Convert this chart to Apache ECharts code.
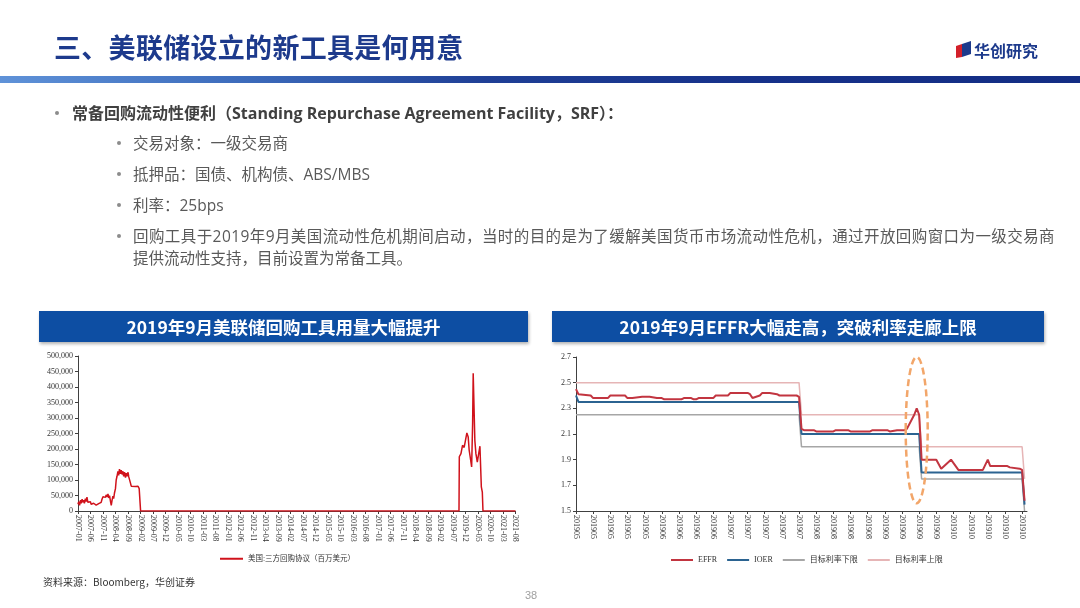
<!DOCTYPE html>
<html>
<head>
<meta charset="utf-8">
<script src="https://cdn.jsdelivr.net/npm/echarts@6/dist/echarts.min.js"></script>
<style>
html,body{margin:0;padding:0;width:1080px;height:608px;overflow:hidden;background:#fff;font-family:"Noto Sans CJK SC",sans-serif;}
#chart{position:absolute;left:0;top:0;width:1080px;height:608px;z-index:0;}
.abs{position:absolute;white-space:nowrap;z-index:2;}
.title{left:54px;top:28px;font-size:27px;font-weight:700;color:#1d3a8c;line-height:38px;letter-spacing:0.3px;}
.logotxt{left:974px;top:39px;font-size:16px;font-weight:700;color:#1d3a8c;line-height:22px;}
.bar{left:0;top:76px;width:1080px;height:7px;background:linear-gradient(90deg,#5f92d8 0%,#3d6cbc 22%,#1f3f96 45%,#16318a 70%,#132d84 100%);}
.dot{width:4px;height:4px;border-radius:50%;background:#8c8c8c;}
.b1{font-family:"Open Sans","Noto Sans CJK SC",sans-serif;font-size:16px;font-weight:700;color:#404040;line-height:22px;}
.b2{font-family:"Open Sans","Noto Sans CJK SC",sans-serif;font-size:15.5px;color:#595959;line-height:22px;}
.hdr{top:311px;height:31px;background:#0d4ea3;color:#fff;font-weight:700;font-size:17.5px;text-align:center;line-height:31px;box-shadow:1px 2px 3px rgba(0,0,0,0.3);}
.src{left:43px;top:574px;font-size:10px;color:#333;line-height:16px;}
.pg{left:525px;top:587px;font-size:11px;color:#a0a0a0;line-height:16px;font-family:"Liberation Sans",sans-serif;}
</style>
</head>
<body>
<div id="chart"></div>

<div class="abs title">三、美联储设立的新工具是何用意</div>
<svg class="abs" style="left:956px;top:41px" width="17" height="17" viewBox="0 0 17 17">
  <polygon points="0,5 6,3 6,16 0,17" fill="#d3202a"/>
  <polygon points="6,3 15,0 15,13 6,16" fill="#1d3a8c"/>
</svg>
<div class="abs logotxt">华创研究</div>
<div class="abs bar"></div>

<div class="abs dot" style="left:55px;top:111px;"></div>
<div class="abs b1" style="left:72px;top:102px;">常备回购流动性便利（Standing Repurchase Agreement Facility，SRF）：</div>
<div class="abs dot" style="left:117px;top:141px;"></div>
<div class="abs b2" style="left:133px;top:132px;">交易对象：一级交易商</div>
<div class="abs dot" style="left:117px;top:172px;"></div>
<div class="abs b2" style="left:133px;top:163px;">抵押品：国债、机构债、ABS/MBS</div>
<div class="abs dot" style="left:117px;top:203px;"></div>
<div class="abs b2" style="left:133px;top:194px;">利率：25bps</div>
<div class="abs dot" style="left:117px;top:234px;"></div>
<div class="abs b2" style="left:133px;top:225px;letter-spacing:0.42px;">回购工具于2019年9月美国流动性危机期间启动，当时的目的是为了缓解美国货币市场流动性危机，通过开放回购窗口为一级交易商</div>
<div class="abs b2" style="left:133px;top:247px;">提供流动性支持，目前设置为常备工具。</div>

<div class="abs hdr" style="left:39px;width:489px;">2019年9月美联储回购工具用量大幅提升</div>
<div class="abs hdr" style="left:552px;width:492px;">2019年9月EFFR大幅走高，突破利率走廊上限</div>

<div class="abs src">资料来源：Bloomberg，华创证券</div>
<div class="abs pg">38</div>

<script>
// ---------- Data: left chart (US tri-party repo, USD mn) ----------
const repoName = '美国:三方回购协议（百万美元）';
const repoDates = [
 '2007-01-01','2007-01-10','2007-01-20','2007-02-01','2007-02-10','2007-02-20','2007-03-01','2007-03-10','2007-03-20',
 '2007-04-01','2007-04-10','2007-04-20','2007-05-01','2007-05-10','2007-05-20','2007-06-01','2007-06-10','2007-06-20',
 '2007-07-01','2007-07-10','2007-07-20','2007-08-01','2007-08-10','2007-08-20','2007-09-01','2007-09-10','2007-09-20',
 '2007-10-01','2007-10-10','2007-10-20','2007-11-01','2007-11-10','2007-11-20','2007-12-01','2007-12-10','2007-12-20',
 '2008-01-01','2008-01-10','2008-01-20','2008-02-01','2008-02-10','2008-02-20','2008-03-01','2008-03-10','2008-03-20',
 '2008-04-01','2008-04-10','2008-04-20','2008-05-01','2008-05-10','2008-05-20','2008-06-01','2008-06-10','2008-06-20',
 '2008-07-01','2008-07-10','2008-07-20','2008-08-01','2008-08-10','2008-08-20','2008-09-01','2008-09-10','2008-09-20',
 '2008-10-01','2008-10-10','2008-11-01','2008-12-01','2009-01-01','2009-01-15','2009-02-01',
 '2019-09-13','2019-09-17','2019-10-07','2019-10-26','2019-11-15','2019-12-01','2019-12-18','2020-01-03','2020-01-15',
 '2020-01-27','2020-02-14','2020-02-26','2020-03-04','2020-03-24','2020-04-06','2020-04-23','2020-05-04','2020-05-25',
 '2020-06-11','2020-06-23','2020-07-01','2021-08-01'
];
const repoValues = [
 22000,30000,18000,35000,25000,38000,28000,35000,25000,
 40000,30000,45000,28000,32000,25000,30000,22000,27000,
 20000,25000,21000,24000,19000,23000,20000,24000,19000,
 22000,28000,38000,46000,40000,50000,44000,52000,45000,
 55000,42000,50000,30000,18000,35000,48000,40000,58000,
 72000,100000,112000,128000,115000,135000,120000,132000,118000,
 128000,112000,125000,108000,122000,112000,125000,110000,115000,
 90000,80000,80000,79000,80000,72000,0,
 0,175000,185000,212000,205000,228000,252000,239000,196000,
 175000,142000,282000,444000,228000,185000,158000,164000,209000,
 78000,61000,0,0
];
const repoTickLabels = ['2007-01','2007-06','2007-11','2008-04','2008-09','2009-02','2009-07','2009-12','2010-05','2010-10',
 '2011-03','2011-08','2012-01','2012-06','2012-11','2013-04','2013-09','2014-02','2014-07','2014-12','2015-05','2015-10',
 '2016-03','2016-08','2017-01','2017-06','2017-11','2018-04','2018-09','2019-02','2019-07','2019-12','2020-05','2020-10',
 '2021-03','2021-08'];

// ---------- Data: right chart (policy rates, %) ----------
const effrDates = ['2019-05-01','2019-05-02','2019-05-07','2019-05-08','2019-05-14','2019-05-15','2019-05-21','2019-05-22','2019-05-24','2019-05-28',
 '2019-05-31','2019-06-03','2019-06-05','2019-06-06','2019-06-13','2019-06-14','2019-06-17','2019-06-18','2019-06-19','2019-06-20',
 '2019-06-26','2019-06-27','2019-07-02','2019-07-03','2019-07-10','2019-07-11','2019-07-12','2019-07-15','2019-07-16','2019-07-19',
 '2019-07-22','2019-07-23','2019-07-30','2019-07-31','2019-08-01','2019-08-02','2019-08-06','2019-08-07','2019-08-14','2019-08-15',
 '2019-08-20','2019-08-21','2019-08-29','2019-08-30','2019-09-05','2019-09-06','2019-09-09','2019-09-12','2019-09-13','2019-09-16',
 '2019-09-17','2019-09-18','2019-09-19','2019-09-25','2019-09-27','2019-10-01','2019-10-04','2019-10-14','2019-10-16','2019-10-17',
 '2019-10-24','2019-10-25','2019-10-29','2019-10-30','2019-10-31'];
const effrValues = [2.45,2.41,2.40,2.38,2.38,2.40,2.40,2.38,2.38,2.39,
 2.39,2.38,2.38,2.37,2.37,2.38,2.38,2.37,2.37,2.38,
 2.38,2.40,2.40,2.42,2.42,2.41,2.38,2.40,2.42,2.42,
 2.41,2.40,2.40,2.39,2.14,2.13,2.13,2.12,2.12,2.13,
 2.13,2.12,2.12,2.13,2.13,2.12,2.13,2.13,2.14,2.25,
 2.30,2.25,1.90,1.90,1.83,1.90,1.82,1.82,1.90,1.85,
 1.85,1.84,1.83,1.82,1.58];
const ioerDates = ['2019-05-01','2019-05-02','2019-07-31','2019-08-01','2019-09-18','2019-09-19','2019-10-30','2019-10-31'];
const ioerValues = [2.40,2.35,2.35,2.10,2.10,1.80,1.80,1.55];
const bandDates = ['2019-05-01','2019-07-31','2019-08-01','2019-09-18','2019-09-19','2019-10-30','2019-10-31'];
const lowerValues = [2.25,2.25,2.00,2.00,1.75,1.75,1.50];
const upperValues = [2.50,2.50,2.25,2.25,2.00,2.00,1.75];
const rateTickDates = ['2019-05-01','2019-05-08','2019-05-15','2019-05-22','2019-05-29','2019-06-05','2019-06-12','2019-06-19','2019-06-26',
 '2019-07-03','2019-07-10','2019-07-17','2019-07-24','2019-07-31','2019-08-07','2019-08-14','2019-08-21','2019-08-28',
 '2019-09-04','2019-09-11','2019-09-18','2019-09-25','2019-10-02','2019-10-09','2019-10-16','2019-10-23','2019-10-30'];
const rateYTicks = [1.5,1.7,1.9,2.1,2.3,2.5,2.7];
const rateNames = ['EFFR','IOER','目标利率下限','目标利率上限'];

// ---------- helpers ----------
function ts(s){ const p = s.split('-').map(Number); return Date.UTC(p[0], (p[1]||1)-1, p[2]||1); }
function zip(d, v){ return d.map((x,i)=>[ts(x), v[i]]); }
function pad(n){ return (n<10?'0':'')+n; }

const serif = '"Liberation Serif","Noto Sans CJK SC",serif';
const axisCol = '#404040';
const labelStyle = {fontSize:8, fontFamily:serif, color:'#333'};

const chart = echarts.init(document.getElementById('chart'));
const option = {
  animation:false,
  grid:[
    {left:78, top:356, width:437.5, height:155},
    {left:576, top:357, width:451, height:154}
  ],
  xAxis:[
    {type:'value', gridIndex:0, min:ts('2007-01-01'), max:ts('2021-08-01'), scale:true,
     axisLine:{show:true, onZero:false, lineStyle:{color:axisCol, width:1}},
     axisTick:{show:true, customValues:repoTickLabels.map(ts), length:3, lineStyle:{color:axisCol}},
     axisLabel:Object.assign({customValues:repoTickLabels.map(ts), rotate:-90, margin:4,
        formatter:function(v){ const d=new Date(v); return d.getUTCFullYear()+'-'+pad(d.getUTCMonth()+1); }}, labelStyle),
     splitLine:{show:false}},
    {type:'value', gridIndex:1, min:ts('2019-05-01'), max:ts('2019-11-01'), scale:true,
     axisLine:{show:true, onZero:false, lineStyle:{color:axisCol, width:1}},
     axisTick:{show:true, customValues:rateTickDates.map(ts), length:3, lineStyle:{color:axisCol}},
     axisLabel:Object.assign({customValues:rateTickDates.map(ts), rotate:-90, margin:4,
        formatter:function(v){ const d=new Date(v); return d.getUTCFullYear()+''+pad(d.getUTCMonth()+1); }}, labelStyle),
     splitLine:{show:false}}
  ],
  yAxis:[
    {type:'value', gridIndex:0, min:0, max:500000, interval:50000,
     axisLine:{show:true, lineStyle:{color:axisCol, width:1}},
     axisTick:{show:true, length:3, lineStyle:{color:axisCol}},
     axisLabel:Object.assign({margin:5, formatter:function(v){ return v.toLocaleString('en-US'); }}, labelStyle),
     splitLine:{show:false}},
    {type:'value', gridIndex:1, min:1.5, max:2.7,
     axisLine:{show:true, lineStyle:{color:axisCol, width:1}},
     axisTick:{show:true, customValues:rateYTicks, length:3, lineStyle:{color:axisCol}},
     axisLabel:Object.assign({customValues:rateYTicks, margin:5, formatter:function(v){ return v.toFixed(1); }}, labelStyle),
     splitLine:{show:false}}
  ],
  legend:[
    {data:[repoName], left:215, top:550, icon:'rect', itemWidth:23, itemHeight:2, itemGap:10,
     textStyle:{fontSize:7.5, fontFamily:serif, color:'#333'}},
    {data:rateNames, left:666, top:551, icon:'rect', itemWidth:22, itemHeight:2, itemGap:10,
     textStyle:{fontSize:8, fontFamily:serif, color:'#333'}}
  ],
  series:[
    {name:repoName, type:'line', xAxisIndex:0, yAxisIndex:0, data:zip(repoDates, repoValues),
     symbol:'none', color:'#d0121b', lineStyle:{color:'#d0121b', width:1.5}, z:5},
    {name:'目标利率上限', type:'line', xAxisIndex:1, yAxisIndex:1, data:zip(bandDates, upperValues),
     symbol:'none', color:'#e6b5b6', lineStyle:{color:'#e6b5b6', width:1.5}, z:2},
    {name:'目标利率下限', type:'line', xAxisIndex:1, yAxisIndex:1, data:zip(bandDates, lowerValues),
     symbol:'none', color:'#a6a6a6', lineStyle:{color:'#a6a6a6', width:1.5}, z:3},
    {name:'IOER', type:'line', xAxisIndex:1, yAxisIndex:1, data:zip(ioerDates, ioerValues),
     symbol:'none', color:'#2b6391', lineStyle:{color:'#2b6391', width:2}, z:4},
    {name:'EFFR', type:'line', xAxisIndex:1, yAxisIndex:1, data:zip(effrDates, effrValues),
     symbol:'none', color:'#c23540', lineStyle:{color:'#c23540', width:2}, z:5}
  ]
};
chart.setOption(option);

// dashed ellipse annotation around the September 2019 spike, placed via the axis scales
const pTop = chart.convertToPixel({xAxisIndex:1, yAxisIndex:1}, [ts('2019-09-17'), 2.70]);
const pBot = chart.convertToPixel({xAxisIndex:1, yAxisIndex:1}, [ts('2019-09-17'), 1.56]);
chart.setOption({graphic:[{type:'ellipse', z:100,
  shape:{cx:pTop[0], cy:(pTop[1]+pBot[1])/2, rx:11, ry:(pBot[1]-pTop[1])/2},
  style:{fill:'none', stroke:'#f2a66a', lineWidth:2.5, lineDash:[7,4]}}]});
</script>
</body>
</html>
